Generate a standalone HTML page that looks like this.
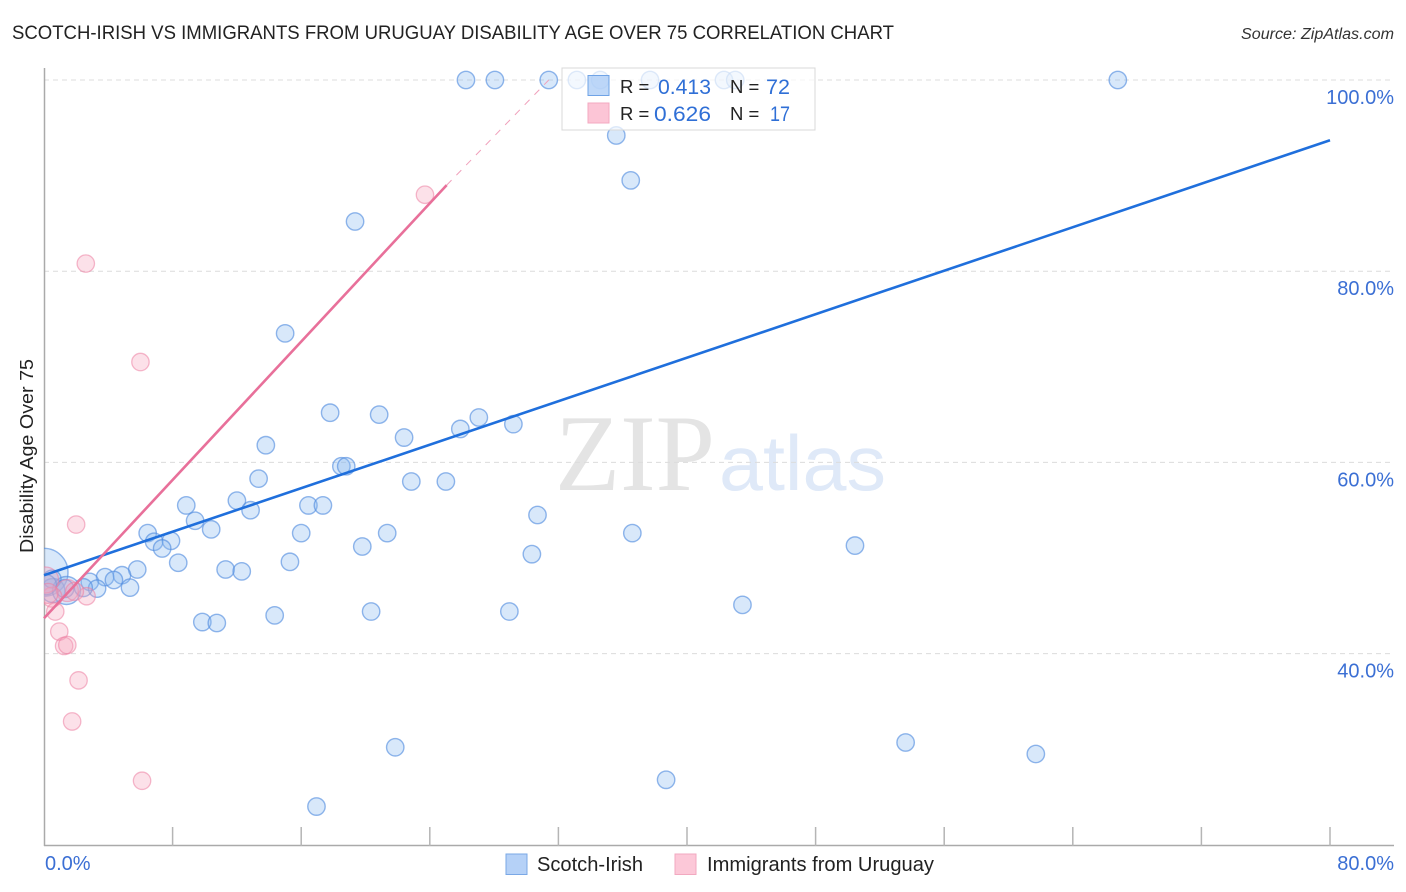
<!DOCTYPE html>
<html lang="en">
<head>
<meta charset="utf-8">
<title>Scotch-Irish vs Immigrants from Uruguay Disability Age Over 75 Correlation Chart</title>
<style>
html,body{margin:0;padding:0;background:#fff;width:1406px;height:892px;overflow:hidden}
svg{display:block}
text{font-family:"Liberation Sans",sans-serif}
</style>
</head>
<body>
<svg id="chart" width="1406" height="892" viewBox="0 0 1406 892" xmlns="http://www.w3.org/2000/svg">
  <defs>
    <clipPath id="plot-clip"><rect x="44" y="60" width="1360" height="786"/></clipPath>
  </defs>
  <rect x="0" y="0" width="1406" height="892" fill="#fff"/>
  <text x="12" y="39" font-size="19.5" fill="#222" textLength="882" lengthAdjust="spacingAndGlyphs">SCOTCH-IRISH VS IMMIGRANTS FROM URUGUAY DISABILITY AGE OVER 75 CORRELATION CHART</text>
  <text x="1394" y="39" font-size="15.5" font-style="italic" fill="#333" text-anchor="end" textLength="153" lengthAdjust="spacingAndGlyphs">Source: ZipAtlas.com</text>
  <g id="watermark">
    <text x="555" y="490" font-size="109" fill="#e4e4e4" textLength="160" lengthAdjust="spacingAndGlyphs" style="font-family:'Liberation Serif',serif">ZIP</text>
    <text x="719" y="490" font-size="78" fill="#dfe9f8" textLength="167" lengthAdjust="spacingAndGlyphs">atlas</text>
  </g>
  <g id="grid"></g>
  <g id="axes"></g>
  <g id="points-blue" clip-path="url(#plot-clip)"></g>
  <g id="points-pink" clip-path="url(#plot-clip)"></g>
  <g id="trends"></g>
  <g id="labels"></g>
  <text transform="translate(33,456) rotate(-90)" font-size="18.5" fill="#222" text-anchor="middle" textLength="194" lengthAdjust="spacingAndGlyphs">Disability Age Over 75</text>

  <g>
    <rect x="562" y="68" width="253" height="62" fill="#fff" fill-opacity="0.7" stroke="#d8d8d8"/>
    <rect x="588" y="75.500" width="21" height="20" fill="#a9cbf5" fill-opacity="0.75" stroke="#6fa3e6"/>
    <rect x="588" y="103" width="21" height="20" fill="#fcc5d6" stroke="#f3a9c0"/>
    <text x="620" y="93" font-size="18.500" fill="#222">R =</text>
    <text x="658" y="94" font-size="21.500" fill="#2f6fd6" textLength="53" lengthAdjust="spacingAndGlyphs">0.413</text>
    <text x="730" y="93" font-size="18.500" fill="#222">N =</text>
    <text x="766" y="94" font-size="21.500" fill="#2f6fd6" textLength="24" lengthAdjust="spacingAndGlyphs">72</text>
    <text x="620" y="120" font-size="18.500" fill="#222">R =</text>
    <text x="654" y="121" font-size="21.500" fill="#2f6fd6" textLength="57" lengthAdjust="spacingAndGlyphs">0.626</text>
    <text x="730" y="120" font-size="18.500" fill="#222">N =</text>
    <text x="770" y="121" font-size="21.500" fill="#2f6fd6" textLength="20" lengthAdjust="spacingAndGlyphs">17</text>
  </g>

  <g>
    <rect x="506" y="854" width="21" height="20.500" fill="#b5d1f7" stroke="#7aa8e6"/>
    <text x="537" y="871" font-size="20" fill="#222" textLength="106" lengthAdjust="spacingAndGlyphs">Scotch-Irish</text>
    <rect x="675" y="854" width="21" height="20.500" fill="#fcc8d8" stroke="#f2a9c0"/>
    <text x="707" y="871" font-size="20" fill="#222" textLength="227" lengthAdjust="spacingAndGlyphs">Immigrants from Uruguay</text>
  </g>
</svg>
<script>
// Chart data (percent units)
const xTickValues = [0, 8, 16, 24, 32, 40, 48, 56, 64, 72, 80];
const yGridValues = [100, 80, 60, 40];
const yTickLabels = ['100.0%', '80.0%', '60.0%', '40.0%'];
const xEndLabels = ['0.0%', '80.0%'];

const scotchIrishX = [26.25,28.05,31.4,33.15,34.6,37.7,42.3,43,66.8,35.6,36.5,19.35,15,17.8,20.85,27.05,29.2,25.9,22.4,13.8,18.5,18.8,13.35,22.85,25,12,8.85,12.85,16.45,17.35,9.4,10.4,16,21.35,6.45,30.7,36.6,6.85,7.9,7.35,19.8,30.35,50.45,8.35,15.3,5.8,11.3,12.3,4.85,3.8,4.35,2.85,5.35,3.3,43.45,28.95,20.35,14.35,9.85,10.75,21.85,53.6,61.7,38.7,16.95,0,0.55,1.4,2.45,0.5,0.15,1.3];
const scotchIrishY = [100,100,100,100,100,100,100,100,100,94.2,89.5,85.2,73.5,65.2,65,64.7,64,63.5,62.6,61.8,59.6,59.6,58.3,58,58,56,55.5,55,55.5,55.5,53.9,53,52.6,52.6,52.6,54.5,52.6,51.7,51.8,51,51.2,50.4,51.3,49.5,49.6,48.8,48.8,48.6,48.2,48,47.7,47.5,46.9,46.8,45.1,44.4,44.4,44,43.3,43.2,30.2,30.7,29.5,26.8,24,48.5,46.6,46.6,46.9,47.8,47.2,46.8];
const scotchIrishR = [8.7,8.7,8.7,8.7,8.7,8.7,8.7,8.7,8.7,8.7,8.7,8.7,8.7,8.7,8.7,8.7,8.7,8.7,8.7,8.7,8.7,8.7,8.7,8.7,8.7,8.7,8.7,8.7,8.7,8.7,8.7,8.7,8.7,8.7,8.7,8.7,8.7,8.7,8.7,8.7,8.7,8.7,8.7,8.7,8.7,8.7,8.7,8.7,8.7,8.7,8.7,8.7,8.7,8.7,8.7,8.7,8.7,8.7,8.7,8.7,8.7,8.7,8.7,8.7,8.7,24,12,14,9,9,10,9];

const uruguayX = [2.6,6,23.7,2,2.65,1.45,1.9,0.5,0.1,0.7,0.95,1.25,1.45,2.15,1.75,6.1,0.25];
const uruguayY = [80.8,70.5,88,53.5,46,46.6,46.5,45.9,47.7,44.4,42.3,40.8,40.9,37.2,32.9,26.7,46.3];
const uruguayR = [8.7,8.7,8.7,8.7,8.7,11,9,10,13,8.7,8.7,8.7,8.7,8.7,8.7,8.7,10];

const blueTrendX = [0, 80];
const blueTrendY = [48.2, 93.7];
const pinkTrendX = [0, 25.05];
const pinkTrendY = [43.7, 89];
const pinkDashX = [25.05, 31.4];
const pinkDashY = [89, 100];

// Axis functions
const xScale = v => 44 + v * 16.075;
const yScale = v => 80 + (100 - v) * 9.56;
const NS = 'http://www.w3.org/2000/svg';
function make(tag, attrs, parent) {
  const el = document.createElementNS(NS, tag);
  for (const k in attrs) el.setAttribute(k, attrs[k]);
  parent.appendChild(el);
  return el;
}

const gridG = document.getElementById('grid');
yGridValues.forEach(v => {
  const el = make('line', {x1: 44, x2: 1394, y1: yScale(v), y2: yScale(v), stroke: '#dcdcdc', 'stroke-width': 1, 'stroke-dasharray': '5 4'}, gridG);
  
  
});

const axesG = document.getElementById('axes');
const yAxis = make('line', {x1: 44.5, x2: 44.5, y1: 68, y2: 846, stroke: '#aaa', 'stroke-width': 1.5}, axesG);


const xAxis = make('line', {x1: 44, x2: 1394, y1: 845.5, y2: 845.5, stroke: '#aaa', 'stroke-width': 1.5}, axesG);


xTickValues.slice(1).forEach(v => {
  const el = make('line', {x1: xScale(v), x2: xScale(v), y1: 827, y2: 846, stroke: '#b5b5b5', 'stroke-width': 1.5}, axesG);
  
  
});

const blueG = document.getElementById('points-blue');
scotchIrishX.forEach((x, i) => {
  const el = make('circle', {cx: xScale(x), cy: yScale(scotchIrishY[i]), r: scotchIrishR[i], fill: '#8ab8f0', 'fill-opacity': 0.33, stroke: '#4f8ade', 'stroke-opacity': 0.62, 'stroke-width': 1.4}, blueG);
  
  
});

const pinkG = document.getElementById('points-pink');
uruguayX.forEach((x, i) => {
  const el = make('circle', {cx: xScale(x), cy: yScale(uruguayY[i]), r: uruguayR[i], fill: '#f5a3bd', 'fill-opacity': 0.33, stroke: '#ec7fa2', 'stroke-opacity': 0.55, 'stroke-width': 1.3}, pinkG);
  
  
});

const trendG = document.getElementById('trends');
const blueLine = make('line', {x1: xScale(blueTrendX[0]), y1: yScale(blueTrendY[0]), x2: xScale(blueTrendX[1]), y2: yScale(blueTrendY[1]), stroke: '#1f6fdc', 'stroke-width': 2.6}, trendG);


const pinkLine = make('line', {x1: xScale(pinkTrendX[0]), y1: yScale(pinkTrendY[0]), x2: xScale(pinkTrendX[1]), y2: yScale(pinkTrendY[1]), stroke: '#e8709a', 'stroke-width': 2.6}, trendG);


const pinkDash = make('line', {x1: xScale(pinkDashX[0]), y1: yScale(pinkDashY[0]), x2: xScale(pinkDashX[1]), y2: yScale(pinkDashY[1]), stroke: '#f0a0bb', 'stroke-width': 1, 'stroke-dasharray': '7 7'}, trendG);



const labelG = document.getElementById('labels');
yGridValues.forEach((v, i) => {
  const el = make('text', {x: 1394, y: yScale(v) + 24, 'font-size': 20, fill: '#3b6fd4', 'text-anchor': 'end'}, labelG);
  el.textContent = yTickLabels[i];
  
  
});
const x0Label = make('text', {x: 45, y: 870, 'font-size': 20, fill: '#3b6fd4'}, labelG);
x0Label.textContent = xEndLabels[0];


const x1Label = make('text', {x: 1394, y: 870, 'font-size': 20, fill: '#3b6fd4', 'text-anchor': 'end'}, labelG);
x1Label.textContent = xEndLabels[1];


</script>
</body>
</html>
